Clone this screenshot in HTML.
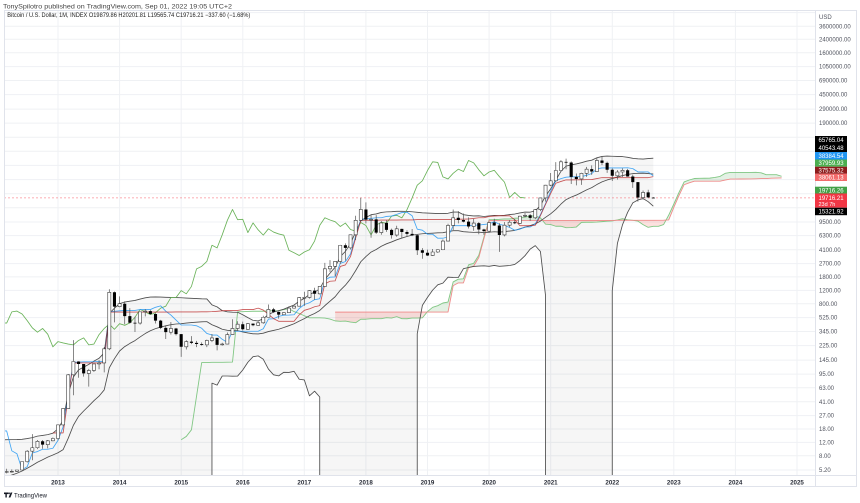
<!DOCTYPE html>
<html><head><meta charset="utf-8">
<style>
html,body{margin:0;padding:0;background:#fff;}
svg{display:block;font-family:"Liberation Sans",sans-serif;}
</style></head><body>
<svg width="860" height="503" viewBox="0 0 860 503" xmlns="http://www.w3.org/2000/svg">
<defs><clipPath id="cp"><rect x="4" y="10" width="811" height="465"/></clipPath></defs>
<rect width="860" height="503" fill="#fff"/>
<g stroke="#eff1f4" stroke-width="1">
<line x1="4" x2="815" y1="12.6" y2="12.6"/><line x1="4" x2="815" y1="26.3" y2="26.3"/><line x1="4" x2="815" y1="39.3" y2="39.3"/><line x1="4" x2="815" y1="52.7" y2="52.7"/><line x1="4" x2="815" y1="66.6" y2="66.6"/><line x1="4" x2="815" y1="80.5" y2="80.5"/><line x1="4" x2="815" y1="94.6" y2="94.6"/><line x1="4" x2="815" y1="109.1" y2="109.1"/><line x1="4" x2="815" y1="123.1" y2="123.1"/><line x1="4" x2="815" y1="137.2" y2="137.2"/><line x1="4" x2="815" y1="151.3" y2="151.3"/><line x1="4" x2="815" y1="165.4" y2="165.4"/><line x1="4" x2="815" y1="179.6" y2="179.6"/><line x1="4" x2="815" y1="193.7" y2="193.7"/><line x1="4" x2="815" y1="207.8" y2="207.8"/><line x1="4" x2="815" y1="222" y2="222"/><line x1="4" x2="815" y1="235.6" y2="235.6"/><line x1="4" x2="815" y1="249.7" y2="249.7"/><line x1="4" x2="815" y1="263.6" y2="263.6"/><line x1="4" x2="815" y1="276.9" y2="276.9"/><line x1="4" x2="815" y1="290.4" y2="290.4"/><line x1="4" x2="815" y1="303.7" y2="303.7"/><line x1="4" x2="815" y1="317.6" y2="317.6"/><line x1="4" x2="815" y1="331.5" y2="331.5"/><line x1="4" x2="815" y1="345.6" y2="345.6"/><line x1="4" x2="815" y1="360.1" y2="360.1"/><line x1="4" x2="815" y1="374.1" y2="374.1"/><line x1="4" x2="815" y1="387.7" y2="387.7"/><line x1="4" x2="815" y1="401.8" y2="401.8"/><line x1="4" x2="815" y1="415.6" y2="415.6"/><line x1="4" x2="815" y1="429" y2="429"/><line x1="4" x2="815" y1="442.4" y2="442.4"/><line x1="4" x2="815" y1="455.8" y2="455.8"/><line x1="4" x2="815" y1="470" y2="470"/>
<line y1="10" y2="475" x1="58" x2="58"/><line y1="10" y2="475" x1="119.6" x2="119.6"/><line y1="10" y2="475" x1="181.2" x2="181.2"/><line y1="10" y2="475" x1="242.8" x2="242.8"/><line y1="10" y2="475" x1="304.3" x2="304.3"/><line y1="10" y2="475" x1="365.9" x2="365.9"/><line y1="10" y2="475" x1="427.5" x2="427.5"/><line y1="10" y2="475" x1="489.1" x2="489.1"/><line y1="10" y2="475" x1="550.7" x2="550.7"/><line y1="10" y2="475" x1="612.3" x2="612.3"/><line y1="10" y2="475" x1="673.8" x2="673.8"/><line y1="10" y2="475" x1="735.4" x2="735.4"/><line y1="10" y2="475" x1="797" x2="797"/>
</g>
<g clip-path="url(#cp)">
<!-- Bollinger fill -->
<path fill="#000" fill-opacity="0.035" d="M1.55 439.90L6.68 439.72L11.81 439.62L16.94 439.57L22.08 439.32L27.21 438.53L32.34 437.61L37.47 436.12L42.60 435.42L47.74 434.61L52.87 433.22L58.00 428.82L63.13 420.09L68.26 393.59L73.40 376.94L78.53 369.87L83.66 367.08L88.79 364.38L93.92 361.08L99.06 358.29L104.19 352.80L109.32 313.45L114.45 308.19L119.58 303.63L124.72 302.03L129.85 301.16L134.98 300.47L140.11 299.05L145.24 297.83L150.37 297.10L155.51 296.91L160.64 297.05L165.77 297.31L170.90 297.46L176.03 297.61L181.17 297.76L186.30 298.05L191.43 298.34L196.56 298.58L201.70 298.81L206.83 298.91L211.96 304.84L217.09 306.86L222.22 310.61L227.36 311.84L232.49 312.19L237.62 312.29L242.75 314.71L247.88 317.65L253.02 320.38L258.15 320.89L263.28 318.82L268.41 314.44L273.54 312.13L278.68 310.63L283.81 309.19L288.94 307.06L294.07 305.02L299.20 301.17L304.34 298.41L309.47 294.34L314.60 292.18L319.73 288.82L324.86 279.48L330.00 273.12L335.13 267.21L340.26 256.58L345.39 251.45L350.52 243.31L355.66 232.07L360.79 220.97L365.92 217.48L371.05 214.72L376.18 213.95L381.32 212.47L386.45 211.88L391.58 211.71L396.71 211.35L401.84 211.28L406.98 211.45L412.11 211.75L417.24 212.30L422.37 212.82L427.50 213.07L432.64 213.35L437.77 213.58L442.90 213.61L448.03 213.27L453.16 212.09L458.30 212.06L463.43 214.66L468.56 215.42L473.69 215.97L478.82 215.85L483.96 216.50L489.09 215.87L494.22 215.44L499.35 215.63L504.48 215.24L509.62 214.54L514.75 214.02L519.88 212.92L525.01 212.09L530.14 212.15L535.28 210.81L540.41 205.52L545.54 196.01L550.67 188.84L555.80 180.12L560.94 171.30L566.07 166.12L571.20 164.84L576.33 163.94L581.46 162.68L586.60 161.17L591.73 160.18L596.86 157.80L601.99 156.45L607.12 156.11L612.26 156.26L617.39 156.43L622.52 156.61L627.65 157.28L632.78 158.32L637.92 158.82L643.05 159.05L648.18 158.61L653.31 158.14L653.31 206.21L648.18 201.68L643.05 198.54L637.92 199.96L632.78 202.91L627.65 212.33L622.52 224.70L617.39 243.52L612.26 290.75L612.26 495L545.54 495L545.54 295.52L540.41 251.48L535.28 245.63L530.14 249.11L525.01 255.69L519.88 260.61L514.75 264.41L509.62 265.5L504.48 265.9L499.35 266.3L494.22 265.45L489.09 266.3L483.96 265.86L478.82 266.1L473.69 266.40L468.56 267.49L463.43 268.66L458.30 277.5L453.16 277.4L448.03 277.18L442.90 283.13L437.77 284.84L432.64 290.12L427.50 297.40L422.37 305.39L417.24 333.82L417.24 495L319.73 495L319.73 397.03L314.60 391.17L309.47 395.87L304.34 379.95L299.20 379.25L294.07 371.31L288.94 372.45L283.81 372.28L278.68 375.86L273.54 374.78L268.41 369.08L263.28 359.28L258.15 355.87L253.02 356.72L247.88 362.25L242.75 369.99L237.62 376.08L232.49 376.15L227.36 376.01L222.22 376.01L217.09 385.11L211.96 383.14L211.96 495L1.55 495Z"/>
<!-- Ichimoku cloud -->
<path fill="rgba(244,67,54,0.16)" d="M335.13 312.13L335.13 320.88L340.26 321.29L345.39 321.05L350.52 322.08L355.66 322.72L360.79 319.24L365.92 319.24L371.05 318.66L376.18 318.66L381.32 318.66L386.45 317.71L391.58 318.10L396.71 316.62L401.84 318.66L406.98 318.75L412.11 318.10L417.24 318.02L422.37 317.86L427.09 312.05Z"/>
<path fill="rgba(67,160,71,0.15)" d="M427.09 312.05L427.50 311.54L432.64 307.29L437.77 305.67L442.90 303.00L448.03 302.01L453.16 281.93L458.30 279.17L463.43 278.83L468.56 264.85L473.69 263.26L478.82 255.21L483.96 237.05L489.09 219.75L494.22 219.62L499.35 219.36L504.48 218.97L509.62 218.91L514.75 218.23L519.88 218.01L525.01 217.10L530.14 216.06L535.28 215.88L540.41 217.79L542.51 220.39L540.41 220.39L530.14 220.49L519.88 220.54L504.48 220.58L489.09 220.63L483.96 238.56L478.82 257.48L473.69 266.16L468.56 267.72L463.43 282.89L458.30 282.89L453.16 285.65L448.03 312.0L427.50 312.0Z"/>
<path fill="rgba(244,67,54,0.16)" d="M542.51 220.39L545.54 224.14L550.67 224.60L555.80 226.25L560.94 226.19L566.07 227.66L571.20 227.57L576.33 227.01L581.46 222.38L586.60 222.25L591.73 222.25L596.86 222.11L601.99 221.63L607.12 221.22L612.26 220.93L617.39 219.98L622.52 218.75L627.65 219.76L632.78 220.34L637.92 221.09L643.05 224.61L648.18 227.35L653.31 226.32L658.44 226.32L663.58 224.56L666.05 220.0L663.58 220.14L653.31 220.28L617.39 220.33L612.26 220.39L545.54 220.39Z"/>
<path fill="rgba(67,160,71,0.15)" d="M666.05 220.0L668.71 215.15L673.84 204.00L678.97 192.39L684.10 181.93L689.24 180.00L694.37 178.51L699.50 178.31L704.63 178.25L709.76 178.12L714.90 177.40L720.03 176.40L725.16 173.33L730.29 172.42L750.82 172.42L755.95 172.32L761.08 172.82L766.21 174.65L776.48 174.65L781.61 176.25L781.61 177.96L776.48 178.04L771.34 178.17L766.21 178.56L761.08 178.56L755.95 178.79L750.82 178.93L745.68 179.01L740.55 179.01L735.42 179.08L730.29 179.08L725.16 180.06L720.03 181.15L699.50 181.19L694.37 181.23L689.24 182.85L684.10 184.74L678.97 195.57L673.84 207.31L668.71 219.91Z"/>
<!-- price line -->
<line x1="4" x2="815" y1="197.9" y2="197.9" stroke="#f23645" stroke-opacity="0.55" stroke-width="0.8" stroke-dasharray="2 2"/>
<g fill="none" stroke-linejoin="round">
<!-- span A -->
<path stroke="#81c784" stroke-width="0.9" d="M181.17 439.72L186.30 436.44L191.43 429.80L196.56 396.07L201.70 362.55L206.83 362.52L211.96 362.35L217.09 362.32L222.22 362.31L227.36 362.17L232.49 362.06L237.62 311.84L242.75 311.67L247.88 311.45L253.02 311.25L263.28 311.25L268.41 310.79L278.68 310.78L283.81 309.56L288.94 308.78L294.07 311.61L299.20 313.49L304.34 315.77L309.47 317.83L319.73 317.79L324.86 318.10L330.00 319.03L335.13 320.88L340.26 321.29L345.39 321.05L350.52 322.08L355.66 322.72L360.79 319.24L365.92 319.24L371.05 318.66L381.32 318.66L386.45 317.71L391.58 318.10L396.71 316.62L401.84 318.66L406.98 318.75L412.11 318.10L417.24 318.02L422.37 317.86L427.50 311.54L432.64 307.29L437.77 305.67L442.90 303.00L448.03 302.01L453.16 281.93L458.30 279.17L463.43 278.83L468.56 264.85L473.69 263.26L478.82 255.21L483.96 237.05L489.09 219.75L494.22 219.62L499.35 219.36L504.48 218.97L509.62 218.91L514.75 218.23L519.88 218.01L525.01 217.10L530.14 216.06L535.28 215.88L540.41 217.79L545.54 224.14L550.67 224.60L555.80 226.25L560.94 226.19L566.07 227.66L571.20 227.57L576.33 227.01L581.46 222.38L586.60 222.25L591.73 222.25L596.86 222.11L601.99 221.63L607.12 221.22L612.26 220.93L617.39 219.98L622.52 218.75L627.65 219.76L632.78 220.34L637.92 221.09L643.05 224.61L648.18 227.35L653.31 226.32L658.44 226.32L663.58 224.56L668.71 215.15L673.84 204.00L678.97 192.39L684.10 181.93L689.24 180.00L694.37 178.51L699.50 178.31L704.63 178.25L709.76 178.12L714.90 177.40L720.03 176.40L725.16 173.33L730.29 172.42L750.82 172.42L755.95 172.32L761.08 172.82L766.21 174.65L776.48 174.65L781.61 176.25"/>
<!-- span B -->
<path stroke="#ef8a8a" stroke-width="0.9" d="M335.13 312.13L448.03 312.00L453.16 285.65L458.30 282.89L463.43 282.89L468.56 267.72L473.69 266.16L478.82 257.48L483.96 238.56L489.09 220.63L509.62 220.54L540.41 220.39L612.26 220.39L617.39 220.33L648.18 220.33L653.31 220.28L663.58 220.14L668.71 219.91L673.84 207.31L678.97 195.57L684.10 184.74L689.24 182.85L694.37 181.23L720.03 181.15L725.16 180.06L730.29 179.08L735.42 179.08L740.55 179.01L750.82 178.93L755.95 178.79L761.08 178.56L766.21 178.56L771.34 178.17L776.48 178.04L781.61 177.96"/>
<!-- BB upper -->
<path stroke="#4d4d4d" stroke-width="0.85" d="M1.55 439.90L6.68 439.72L11.81 439.62L16.94 439.57L22.08 439.32L27.21 438.53L32.34 437.61L37.47 436.12L42.60 435.42L47.74 434.61L52.87 433.22L58.00 428.82L63.13 420.09L68.26 393.59L73.40 376.94L78.53 369.87L83.66 367.08L88.79 364.38L93.92 361.08L99.06 358.29L104.19 352.80L109.32 313.45L114.45 308.19L119.58 303.63L124.72 302.03L129.85 301.16L134.98 300.47L140.11 299.05L145.24 297.83L150.37 297.10L155.51 296.91L160.64 297.05L165.77 297.31L170.90 297.46L176.03 297.61L181.17 297.76L186.30 298.05L191.43 298.34L196.56 298.58L201.70 298.81L206.83 298.91L211.96 304.84L217.09 306.86L222.22 310.61L227.36 311.84L232.49 312.19L237.62 312.29L242.75 314.71L247.88 317.65L253.02 320.38L258.15 320.89L263.28 318.82L268.41 314.44L273.54 312.13L278.68 310.63L283.81 309.19L288.94 307.06L294.07 305.02L299.20 301.17L304.34 298.41L309.47 294.34L314.60 292.18L319.73 288.82L324.86 279.48L330.00 273.12L335.13 267.21L340.26 256.58L345.39 251.45L350.52 243.31L355.66 232.07L360.79 220.97L365.92 217.48L371.05 214.72L376.18 213.95L381.32 212.47L386.45 211.88L391.58 211.71L396.71 211.35L401.84 211.28L406.98 211.45L412.11 211.75L417.24 212.30L422.37 212.82L427.50 213.07L432.64 213.35L437.77 213.58L442.90 213.61L448.03 213.27L453.16 212.09L458.30 212.06L463.43 214.66L468.56 215.42L473.69 215.97L478.82 215.85L483.96 216.50L489.09 215.87L494.22 215.44L499.35 215.63L504.48 215.24L509.62 214.54L514.75 214.02L519.88 212.92L525.01 212.09L530.14 212.15L535.28 210.81L540.41 205.52L545.54 196.01L550.67 188.84L555.80 180.12L560.94 171.30L566.07 166.12L571.20 164.84L576.33 163.94L581.46 162.68L586.60 161.17L591.73 160.18L596.86 157.80L601.99 156.45L607.12 156.11L612.26 156.26L617.39 156.43L622.52 156.61L627.65 157.28L632.78 158.32L637.92 158.82L643.05 159.05L648.18 158.61L653.31 158.14"/>
<!-- BB basis -->
<path stroke="#4d4d4d" stroke-width="0.85" d="M1.55 478.91L6.68 476.96L11.81 475.08L16.94 473.23L22.08 471.02L27.21 468.20L32.34 465.36L37.47 462.23L42.60 459.73L47.74 457.09L52.87 455.01L58.00 452.73L63.13 449.63L68.26 438.21L73.40 425.26L78.53 416.42L83.66 411.01L88.79 405.94L93.92 400.70L99.06 396.09L104.19 389.95L109.32 367.77L114.45 358.69L119.58 351.00L124.72 346.61L129.85 343.43L134.98 340.58L140.11 336.92L145.24 333.55L150.37 330.76L155.51 328.65L160.64 327.08L165.77 325.83L170.90 324.70L176.03 324.01L181.17 323.67L186.30 323.09L191.43 322.58L196.56 322.19L201.70 321.84L206.83 321.63L211.96 324.79L217.09 326.81L222.22 329.23L227.36 330.30L232.49 330.64L237.62 330.71L242.75 331.93L247.88 332.93L253.02 333.78L258.15 333.94L263.28 333.20L268.41 331.56L273.54 330.40L278.68 329.23L283.81 327.52L288.94 325.68L294.07 323.74L299.20 321.10L304.34 318.62L309.47 315.74L314.60 313.46L319.73 310.49L324.86 305.63L330.00 301.21L335.13 296.75L340.26 290.29L345.39 285.24L350.52 278.82L355.66 270.62L360.79 261.74L365.92 256.57L371.05 252.11L376.18 249.51L381.32 246.21L386.45 243.81L391.58 241.95L396.71 239.80L401.84 238.05L406.98 236.48L412.11 235.12L417.24 234.36L422.37 233.76L427.50 233.48L432.64 233.15L437.77 232.86L442.90 232.70L448.03 231.70L453.16 230.70L458.30 230.67L463.43 231.66L468.56 232.11L473.69 232.37L478.82 232.21L483.96 232.70L489.09 232.26L494.22 231.76L499.35 232.06L504.48 231.68L509.62 231.03L514.75 230.40L519.88 228.80L525.01 227.16L530.14 225.70L535.28 223.82L540.41 221.07L545.54 217.31L550.67 213.80L555.80 209.44L560.94 204.11L566.07 199.58L571.20 197.12L576.33 195.07L581.46 192.56L586.60 189.83L591.73 187.65L596.86 184.56L601.99 181.85L607.12 179.97L612.26 178.59L617.39 177.04L622.52 175.55L627.65 174.46L632.78 173.61L637.92 173.36L643.05 173.22L648.18 173.57L653.31 174.11"/>
<!-- BB lower -->
<path stroke="#4d4d4d" stroke-width="0.85" d="M1.55 495L211.96 495L211.96 383.14L217.09 385.11L222.22 376.01L227.36 376.01L232.49 376.15L237.62 376.08L242.75 369.99L247.88 362.25L253.02 356.72L258.15 355.87L263.28 359.28L268.41 369.08L273.54 374.78L278.68 375.86L283.81 372.28L288.94 372.45L294.07 371.31L299.20 379.25L304.34 379.95L309.47 395.87L314.60 391.17L319.73 397.03L319.73 495L417.24 495L417.24 333.82L422.37 305.39L427.50 297.40L432.64 290.12L437.77 284.84L442.90 283.13L448.03 277.18L453.16 277.4L458.30 277.5L463.43 268.66L468.56 267.49L473.69 266.40L478.82 266.1L483.96 265.86L489.09 266.3L494.22 265.45L499.35 266.3L504.48 265.9L509.62 265.5L514.75 264.41L519.88 260.61L525.01 255.69L530.14 249.11L535.28 245.63L540.41 251.48L545.54 295.52L545.54 495L612.26 495L612.26 290.75L617.39 243.52L622.52 224.70L627.65 212.33L632.78 202.91L637.92 199.96L643.05 198.54L648.18 201.68L653.31 206.21"/>
<!-- lagging span -->
<path stroke="#6bb35a" stroke-width="0.85" d="M1.55 322.72L6.68 323.09L11.81 311.87L16.94 311.09L22.08 314.05L27.21 320.59L32.34 327.87L37.47 332.17L42.60 328.47L47.74 334.18L52.87 346.80L58.00 341.60L63.13 342.93L68.26 344.03L73.40 344.88L78.53 340.45L83.66 337.91L88.79 344.88L93.92 344.03L99.06 334.60L104.19 328.47L109.32 324.22L114.45 329.27L119.58 323.68L124.72 325.31L129.85 322.86L134.98 317.25L140.11 309.43L145.24 311.92L150.37 314.62L155.51 312.73L160.64 308.13L165.77 306.20L170.90 297.56L176.03 297.46L181.17 290.61L186.30 293.81L191.43 286.44L196.56 268.85L201.70 266.36L206.83 261.48L211.96 245.25L217.09 247.88L222.22 234.80L227.36 220.32L232.49 209.45L237.62 219.67L242.75 219.34L247.88 232.57L253.02 222.89L258.15 229.82L263.28 235.11L268.41 228.82L273.54 232.05L278.68 233.92L283.81 235.21L288.94 250.25L294.07 252.79L299.20 255.46L304.34 252.01L309.47 249.76L314.60 241.04L319.73 225.42L324.86 217.78L330.00 219.99L335.13 221.67L340.26 226.47L345.39 223.07L350.52 229.51L355.66 231.17L360.79 222.54L365.92 225.53L371.05 234.95L376.18 225.19L381.32 222.19L386.45 223.29L391.58 216.14L396.71 215.28L401.84 217.84L406.98 209.69L412.11 197.93L417.24 185.22L422.37 180.80L427.50 170.51L432.64 161.82L437.77 162.45L442.90 176.85L448.03 178.95L453.16 173.33L458.30 169.15L463.43 171.55L468.56 160.45L473.69 162.85L478.82 169.79L483.96 175.81L489.09 172.00L494.22 170.29L499.35 176.55L504.48 182.12L509.62 197.52L514.75 192.39L519.88 197.35L525.01 197.90"/>
<!-- conversion line -->
<path stroke="#2196f3" stroke-opacity="0.85" stroke-width="0.85" d="M1.55 430.98L6.68 430.98L11.81 450.81L16.94 453.78L22.08 469.68L27.21 466.68L32.34 453.01L37.47 451.53L42.60 449.25L47.74 449.25L52.87 448.24L58.00 440.39L63.13 426.95L68.26 395.20L73.40 362.17L78.53 362.11L83.66 361.77L93.92 361.75L99.06 361.46L104.19 361.41L109.32 311.62L114.45 311.27L119.58 310.83L124.72 310.44L134.98 310.44L140.11 309.57L150.37 309.57L155.51 307.29L160.64 305.85L165.77 311.21L170.90 315.05L176.03 320.07L181.17 325.00L191.43 325.00L196.56 325.79L201.70 328.30L206.83 333.46L211.96 335.02L217.09 335.02L222.22 339.27L227.36 342.45L232.49 331.25L258.15 331.25L263.28 328.74L268.41 319.07L273.54 318.75L278.68 316.39L283.81 315.20L288.94 315.05L294.07 314.76L299.20 308.48L304.34 304.51L309.47 302.78L314.60 299.65L319.73 298.75L324.86 280.12L330.00 277.22L335.13 276.89L340.26 263.31L345.39 261.65L350.52 253.92L355.66 236.11L360.79 219.19L365.92 218.93L371.05 218.47L376.18 217.74L381.32 217.74L386.45 216.47L391.58 216.06L396.71 214.40L401.84 212.56L406.98 212.24L412.11 215.77L417.24 229.16L422.37 230.20L427.50 234.25L432.64 234.25L437.77 238.23L442.90 238.23L448.03 236.85L453.16 225.64L468.56 225.64L473.69 225.13L478.82 225.13L483.96 224.48L489.09 223.89L494.22 221.67L499.35 224.26L504.48 225.59L509.62 227.38L514.75 230.26L519.88 229.16L525.01 227.01L530.14 227.01L535.28 223.89L540.41 214.65L545.54 203.64L550.67 191.35L555.80 180.67L560.94 178.62L566.07 177.18L571.20 176.78L576.33 176.78L581.46 176.56L586.60 175.34L591.73 173.53L596.86 168.83L601.99 167.91L622.52 167.91L627.65 167.75L632.78 168.63L637.92 171.92L648.18 171.92L653.31 175.90"/>
<!-- base line -->
<path stroke="#b71c1c" stroke-opacity="0.75" stroke-width="0.85" d="M52.87 432.95L63.13 432.95L68.26 396.94L73.40 362.94L99.06 362.9L104.19 362.72L109.32 312.08L134.98 312.08L140.11 312.02L170.90 312.02L176.03 311.92L196.56 311.92L201.70 311.80L206.83 311.80L211.96 311.62L217.09 311.27L222.22 310.83L227.36 310.44L237.62 310.44L242.75 309.57L253.02 309.57L258.15 308.13L263.28 310.07L268.41 314.34L273.54 318.58L278.68 321.28L294.07 321.28L299.20 314.91L304.34 310.32L309.47 308.84L314.60 306.74L319.73 305.63L324.86 283.85L330.00 281.24L335.13 280.88L340.26 266.46L345.39 264.96L350.52 256.56L355.66 238.04L360.79 220.32L376.18 220.32L381.32 220.1L396.71 220.1L401.84 219.95L412.11 219.95L417.24 219.6L453.16 219.6L458.30 219.19L463.43 219.19L468.56 218.93L473.69 218.47L478.82 217.74L483.96 217.74L489.09 216.47L494.22 216.06L499.35 215.81L509.62 215.81L514.75 219.79L519.88 225.64L530.14 225.64L535.28 225.25L540.41 215.67L545.54 204.36L550.67 193.49L555.80 183.24L560.94 181.44L566.07 179.90L571.20 179.90L576.33 179.77L581.46 179.77L586.60 179.62L591.73 179.57L596.86 178.56L601.99 177.64L648.18 177.64L653.31 176.61"/>
<!-- wicks -->
<path stroke="#555" stroke-width="0.7" d="M6.68 468.76V473.34M11.81 469.37V472.65M16.94 470V471.97M22.08 461.63V470M27.21 450.10V462.63M32.34 434.15V460.19M37.47 440V449.08M42.60 440V448.74M47.74 440V448.41M52.87 437.54V441.31M58 424.39V440.26M63.13 408.59V426.36M68.26 374.07V408.99M73.40 340.08V395.27M78.53 361.27V377.75M83.66 363.97V376.60M88.79 368.93V386.60M93.92 363.97V372.05M99.06 360.11V369.23M104.19 347.10V372.38M109.32 289.25V350.16M114.45 291.45V322.35M119.58 296.35V307.20M124.72 301.33V324.22M129.85 308.13V323.46M134.98 316.70V331.97M140.11 311.61V324.60M145.24 309.08V316.39M150.37 310.07V314.91M155.51 313.22V323.46M160.64 319.91V329.18M165.77 325.39V338.98M170.90 321.99V334.49M176.03 327.87V335.56M181.17 333.97V356.86M186.30 340.20V349.49M191.43 336.10V344.17M196.56 340.83V347.10M201.70 342.39V345.60M206.83 339.58V347.10M211.96 333.97V342.12M217.09 337.83V350.33M222.22 342.79V345.60M227.36 332.46V344.17M232.49 319.24V335.02M237.62 321.28V331.01M242.75 321.63V330.55M247.88 323.09V329.63M253.02 323.46V326.19M258.15 321.28V325.63M263.28 315.79V323.76M268.41 304.55V317.32M273.54 307.89V312.94M278.68 311.61V318.58M283.81 312.40V314.91M288.94 306.29V312.94M294.07 305.63V308.60M299.20 297.02V306.29M304.34 291.74V305.85M309.47 290.06V298.57M314.60 287.69V299.83M319.73 286.44V294.43M324.86 262.83V286.44M330 260.07V271.85M335.13 261.19V276.40M340.26 244.90V263.92M345.39 243.34V260.63M350.52 234.65V249.52M355.66 215.71V240.06M360.79 197.76V220.65M365.92 202.41V223.43M371.05 214.85V237.74M376.18 215.14V234.04M381.32 221.16V234.80M386.45 220.35V231.86M391.58 228.61V238.59M396.71 225.69V236.80M401.84 228.73V237.85M406.98 230.22V236.64M412.11 228.95V236.11M417.24 234.24V254.98M422.37 248.11V258.73M427.50 249.68V255.94M432.64 248.96V256.04M437.77 249.36V252.88M442.90 239.47V250.16M448.03 223.80V241.27M453.16 209.45V230.04M458.30 211.15V223.43M463.43 213.48V222.36M468.56 217.32V228.52M473.69 218.71V230.71M478.82 222.01V234.29M483.96 228.73V234.90M489.09 221.67V232.76M494.22 218.71V225.88M499.35 223.11V251.84M504.48 222.08V236.37M509.62 220.09V227.28M514.75 219.03V224.17M519.88 215.85V223.95M525.01 213.01V217.32M530.14 214.03V220.82M535.28 208.97V219.09M540.41 197.60V211.15M545.54 184.82V201.65M550.67 172.97V186.17M555.80 162.08V181.61M560.94 160.18V170.66M566.07 158.57V169.22M571.20 161.43V184.04M576.33 173.49V185.39M581.46 172.70V184.82M586.60 166.85V176.85M591.73 165.32V174.88M596.86 157.51V171.93M601.99 156.54V165.07M607.12 161.63V172.93M612.26 168.56V181M617.39 170.07V179.62M622.52 168.39V176.94M627.65 168.91V176.59M632.78 174.61V187.91M637.92 181.97V201.62M643.05 190.53V199.48M648.18 189.80V198.10M653.31 197.10V198.16"/>
</g>
<!-- up candles -->
<path fill="#fff" stroke="#3c3c3c" stroke-width="0.6" d="M5.13 471.57h3.1v0.8h-3.1zM10.26 471.3h3.1v0.8h-3.1zM15.39 470h3.1v1.3h-3.1zM20.53 461.63h3.1v8.37h-3.1zM25.66 451.16h3.1v10.47h-3.1zM30.79 447.76h3.1v3.4h-3.1zM35.92 441.31h3.1v6.45h-3.1zM46.19 440.78h3.1v3.89h-3.1zM51.32 438.5h3.1v2.28h-3.1zM56.45 424.87h3.1v13.63h-3.1zM61.58 408.59h3.1v16.28h-3.1zM66.71 374.78h3.1v33.81h-3.1zM71.85 361.51h3.1v13.27h-3.1zM87.24 370.46h3.1v2.93h-3.1zM92.37 363.97h3.1v6.49h-3.1zM97.51 362.96h3.1v1.01h-3.1zM102.64 348.84h3.1v14.12h-3.1zM107.77 292.31h3.1v56.53h-3.1zM118.03 303.72h3.1v2.93h-3.1zM138.56 311.87h3.1v11.22h-3.1zM143.69 311.09h3.1v0.8h-3.1zM169.35 328.47h3.1v3.7h-3.1zM184.75 341.6h3.1v5.2h-3.1zM205.28 340.45h3.1v4.43h-3.1zM210.41 337.91h3.1v2.54h-3.1zM220.67 344.03h3.1v0.85h-3.1zM225.81 334.6h3.1v9.43h-3.1zM230.94 328.47h3.1v6.13h-3.1zM236.07 324.22h3.1v4.25h-3.1zM246.33 323.68h3.1v5.59h-3.1zM256.6 322.86h3.1v2.45h-3.1zM261.73 317.25h3.1v5.61h-3.1zM266.86 309.43h3.1v7.82h-3.1zM282.26 312.73h3.1v1.89h-3.1zM287.39 308.13h3.1v4.6h-3.1zM292.52 306.2h3.1v1.93h-3.1zM297.65 297.56h3.1v8.64h-3.1zM302.79 297.46h3.1v0.8h-3.1zM307.92 290.61h3.1v6.85h-3.1zM318.18 286.44h3.1v7.37h-3.1zM323.31 268.85h3.1v17.59h-3.1zM328.45 266.36h3.1v2.49h-3.1zM333.58 261.48h3.1v4.88h-3.1zM338.71 245.25h3.1v16.23h-3.1zM348.97 234.8h3.1v13.08h-3.1zM354.11 220.32h3.1v14.48h-3.1zM359.24 209.45h3.1v10.87h-3.1zM369.5 219.34h3.1v0.8h-3.1zM379.77 222.89h3.1v9.68h-3.1zM395.16 228.82h3.1v6.29h-3.1zM431.09 252.01h3.1v3.45h-3.1zM436.22 249.76h3.1v2.25h-3.1zM441.35 241.04h3.1v8.72h-3.1zM446.48 225.42h3.1v15.62h-3.1zM451.61 217.78h3.1v7.64h-3.1zM472.14 223.07h3.1v3.4h-3.1zM487.54 222.54h3.1v8.63h-3.1zM502.93 225.19h3.1v9.76h-3.1zM508.07 222.19h3.1v3h-3.1zM518.33 216.14h3.1v7.15h-3.1zM523.46 215.28h3.1v0.86h-3.1zM533.73 209.69h3.1v8.15h-3.1zM538.86 197.93h3.1v11.76h-3.1zM543.99 185.22h3.1v12.71h-3.1zM549.12 180.8h3.1v4.42h-3.1zM554.25 170.51h3.1v10.29h-3.1zM559.39 161.82h3.1v8.69h-3.1zM579.91 173.33h3.1v5.62h-3.1zM585.05 169.15h3.1v4.18h-3.1zM595.31 160.45h3.1v11.1h-3.1zM615.84 172h3.1v3.81h-3.1zM620.97 170.29h3.1v1.71h-3.1zM641.5 192.39h3.1v5.13h-3.1z"/>
<!-- down candles -->
<path fill="#000" d="M41.05 441.31h3.1v3.36h-3.1zM76.98 361.51h3.1v2.46h-3.1zM82.11 363.97h3.1v9.42h-3.1zM112.9 292.31h3.1v14.34h-3.1zM123.17 303.72h3.1v12.37h-3.1zM128.3 316.09h3.1v6.63h-3.1zM133.43 322.72h3.1v0.8h-3.1zM148.82 311.09h3.1v2.96h-3.1zM153.96 314.05h3.1v6.54h-3.1zM159.09 320.59h3.1v7.28h-3.1zM164.22 327.87h3.1v4.3h-3.1zM174.48 328.47h3.1v5.71h-3.1zM179.62 334.18h3.1v12.62h-3.1zM189.88 341.6h3.1v1.33h-3.1zM195.01 342.93h3.1v1.1h-3.1zM200.15 344.03h3.1v0.85h-3.1zM215.54 337.91h3.1v6.97h-3.1zM241.2 324.22h3.1v5.05h-3.1zM251.47 323.68h3.1v1.63h-3.1zM271.99 309.43h3.1v2.49h-3.1zM277.13 311.92h3.1v2.7h-3.1zM313.05 290.61h3.1v3.2h-3.1zM343.84 245.25h3.1v2.63h-3.1zM364.37 209.45h3.1v10.22h-3.1zM374.63 219.34h3.1v13.23h-3.1zM384.9 222.89h3.1v6.93h-3.1zM390.03 229.82h3.1v5.29h-3.1zM400.29 228.82h3.1v3.23h-3.1zM405.43 232.05h3.1v1.87h-3.1zM410.56 233.92h3.1v1.29h-3.1zM415.69 235.21h3.1v15.04h-3.1zM420.82 250.25h3.1v2.54h-3.1zM425.95 252.79h3.1v2.67h-3.1zM456.75 217.78h3.1v2.21h-3.1zM461.88 219.99h3.1v1.68h-3.1zM467.01 221.67h3.1v4.8h-3.1zM477.27 223.07h3.1v6.44h-3.1zM482.41 229.51h3.1v1.66h-3.1zM492.67 222.54h3.1v2.99h-3.1zM497.8 225.53h3.1v9.42h-3.1zM513.2 222.19h3.1v1.1h-3.1zM528.59 215.28h3.1v2.56h-3.1zM564.52 161.82h3.1v0.8h-3.1zM569.65 162.45h3.1v14.4h-3.1zM574.78 176.85h3.1v2.1h-3.1zM590.18 169.15h3.1v2.4h-3.1zM600.44 160.45h3.1v2.4h-3.1zM605.57 162.85h3.1v6.94h-3.1zM610.71 169.79h3.1v6.02h-3.1zM626.1 170.29h3.1v6.26h-3.1zM631.23 176.55h3.1v5.57h-3.1zM636.37 182.12h3.1v15.4h-3.1zM646.63 192.39h3.1v4.96h-3.1zM651.76 197.63h3.1v0.8h-3.1z"/>
</g>
<g fill="none" stroke="#e0e3eb" stroke-width="1">
<rect x="4.5" y="10.5" width="852" height="476"/>
<line x1="815.5" y1="10" x2="815.5" y2="487"/>
<line x1="4" y1="475.5" x2="857" y2="475.5"/>
</g>
<text x="3" y="8.3" font-size="6.3" fill="#444" textLength="229" lengthAdjust="spacingAndGlyphs">TonySpilotro published on TradingView.com, Sep 01, 2022 19:05 UTC+2</text>
<text x="7.3" y="17.2" font-size="6" fill="#222" textLength="243" lengthAdjust="spacingAndGlyphs">Bitcoin / U.S. Dollar, 1M, INDEX  O19879.86  H20201.81  L19565.74  C19716.21  −337.60 (−1.68%)</text>
<g font-size="6" fill="#50535e">
<text x="819" y="19">USD</text>
<text x="819" y="28.4">3600000.00</text>
<text x="819" y="41.4">2400000.00</text>
<text x="819" y="54.8">1600000.00</text>
<text x="819" y="68.7">1050000.00</text>
<text x="819" y="82.6">690000.00</text>
<text x="819" y="96.7">450000.00</text>
<text x="819" y="111.2">290000.00</text>
<text x="819" y="125.2">190000.00</text>
<text x="819" y="224.1">9500.00</text>
<text x="819" y="237.7">6300.00</text>
<text x="819" y="251.8">4100.00</text>
<text x="819" y="265.7">2700.00</text>
<text x="819" y="279">1800.00</text>
<text x="819" y="292.5">1200.00</text>
<text x="819" y="305.8">800.00</text>
<text x="819" y="319.7">525.00</text>
<text x="819" y="333.6">345.00</text>
<text x="819" y="347.7">225.00</text>
<text x="819" y="362.2">145.00</text>
<text x="819" y="376.2">95.00</text>
<text x="819" y="389.8">63.00</text>
<text x="819" y="403.9">41.00</text>
<text x="819" y="417.7">27.00</text>
<text x="819" y="431.1">18.00</text>
<text x="819" y="444.5">12.00</text>
<text x="819" y="457.9">8.00</text>
<text x="819" y="472.1">5.20</text>
</g>
<rect x="815" y="136" width="32" height="8" fill="#000"/>
<rect x="815" y="144" width="32" height="8" fill="#000"/>
<rect x="815" y="152" width="32" height="7.5" fill="#2196f3"/>
<rect x="815" y="159.5" width="32" height="7.2" fill="#4caf50"/>
<rect x="815" y="166.7" width="32" height="7.1" fill="#8e1c1c"/>
<rect x="815" y="173.8" width="32" height="7.2" fill="#f26b6b"/>
<rect x="815" y="186.7" width="32" height="6.8" fill="#43a047"/>
<rect x="815" y="193.5" width="32" height="14.2" fill="#f23645"/>
<rect x="815" y="207.7" width="32" height="7.5" fill="#000"/>
<g font-size="6" fill="#fff">
<text x="818.5" y="142.2">65765.04</text>
<text x="818.5" y="150.2">40543.48</text>
<text x="818.5" y="157.9">38384.54</text>
<text x="818.5" y="165.2">37959.93</text>
<text x="818.5" y="172.4">37575.32</text>
<text x="818.5" y="179.5">38061.13</text>
<text x="818.5" y="192.3">19716.26</text>
<text x="818.5" y="200.2">19716.21</text>
<text x="818.5" y="205.9" font-size="5.5">23d 7h</text>
<text x="818.5" y="213.6">15321.92</text>
</g>
<g font-size="6.2" font-weight="bold" fill="#2a2e39" text-anchor="middle">
<text x="58" y="484.3">2013</text>
<text x="119.6" y="484.3">2014</text>
<text x="181.2" y="484.3">2015</text>
<text x="242.8" y="484.3">2016</text>
<text x="304.3" y="484.3">2017</text>
<text x="365.9" y="484.3">2018</text>
<text x="427.5" y="484.3">2019</text>
<text x="489.1" y="484.3">2020</text>
<text x="550.7" y="484.3">2021</text>
<text x="612.3" y="484.3">2022</text>
<text x="673.8" y="484.3">2023</text>
<text x="735.4" y="484.3">2024</text>
<text x="797" y="484.3">2025</text>
</g>
<g fill="#131722">
<rect x="4" y="492.5" width="4" height="1.6"/>
<rect x="5.4" y="492.5" width="1.4" height="5"/>
<circle cx="9" cy="493.3" r="0.9"/>
<polygon points="10.6,492.5 12.4,492.5 10.4,497.5 8.6,497.5"/>
<text x="14" y="497.6" font-size="6.5" textLength="33" lengthAdjust="spacingAndGlyphs">TradingView</text>
</g>
</svg>
</body></html>
